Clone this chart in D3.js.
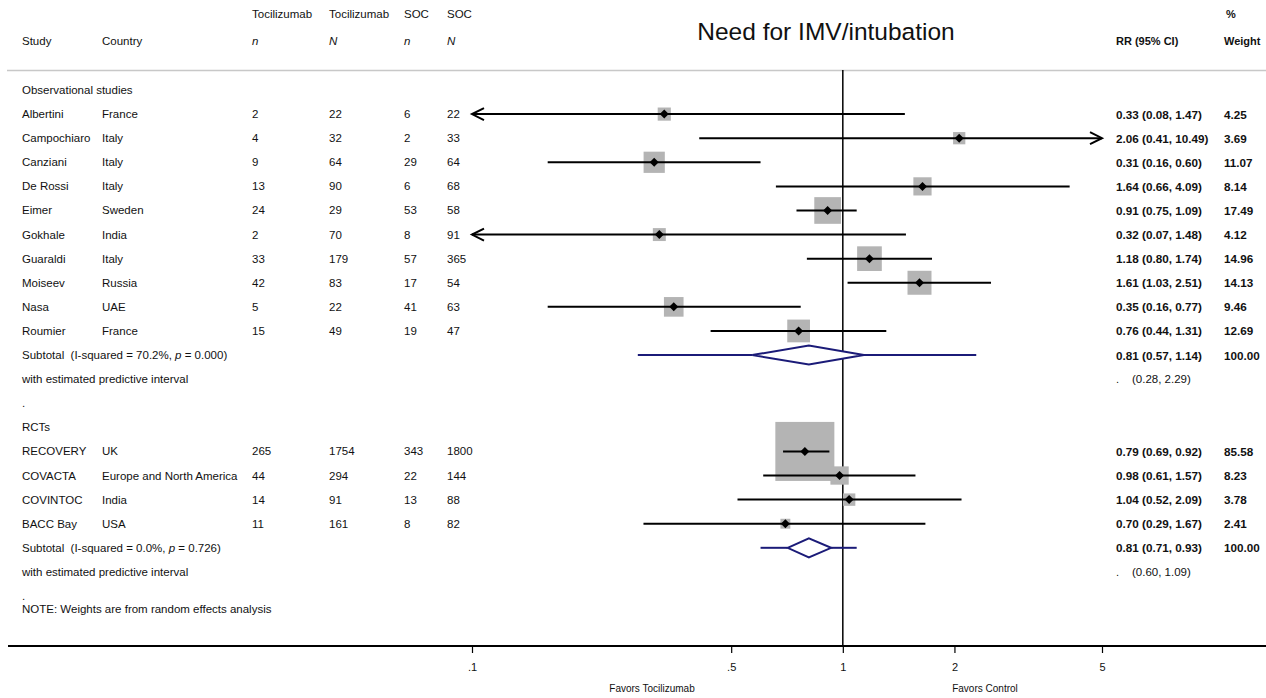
<!DOCTYPE html>
<html>
<head>
<meta charset="utf-8">
<script src="https://cdnjs.cloudflare.com/ajax/libs/d3/7.8.5/d3.min.js"></script>
<style>
  body { margin: 0; background: #fff; }
  svg text { font-family: "Liberation Sans", Arial, Helvetica, sans-serif; fill: #111; white-space: pre; }
</style>
</head>
<body>
<div id="chart"></div>
<script>
// study level data
var studies   = ['Albertini','Campochiaro','Canziani','De Rossi','Eimer','Gokhale','Guaraldi','Moiseev','Nasa','Roumier',
                 'RECOVERY','COVACTA','COVINTOC','BACC Bay'];
var countries = ['France','Italy','Italy','Italy','Sweden','India','Italy','Russia','UAE','France',
                 'UK','Europe and North America','India','USA'];
var groups    = ['obs','obs','obs','obs','obs','obs','obs','obs','obs','obs','rct','rct','rct','rct'];
var tocEvents = [2,4,9,13,24,2,33,42,5,15, 265,44,14,11];
var tocTotal  = [22,32,64,90,29,70,179,83,22,49, 1754,294,91,161];
var socEvents = [6,2,29,6,53,8,57,17,41,19, 343,22,13,8];
var socTotal  = [22,33,64,68,58,91,365,54,63,47, 1800,144,88,82];
var rr        = [0.33,2.06,0.31,1.64,0.91,0.32,1.18,1.61,0.35,0.76, 0.79,0.98,1.04,0.70];
var rrLo      = [0.08,0.41,0.16,0.66,0.75,0.07,0.80,1.03,0.16,0.44, 0.69,0.61,0.52,0.29];
var rrHi      = [1.47,10.49,0.60,4.09,1.09,1.48,1.74,2.51,0.77,1.31, 0.92,1.57,2.09,1.67];
var weights   = [4.25,3.69,11.07,8.14,17.49,4.12,14.96,14.13,9.46,12.69, 85.58,8.23,3.78,2.41];

// subgroups
var groupKeys   = ['obs','rct'];
var groupTitles = ['Observational studies','RCTs'];
var subRR       = [0.81,0.81];
var subLo       = [0.57,0.71];
var subHi       = [1.14,0.93];
var piLo        = [0.28,0.60];
var piHi        = [2.29,1.09];
var i2          = ['70.2%','0.0%'];
var pHet        = ['0.000','0.726'];

var tickVals   = [0.1,0.5,1,2,5];
var tickLabels = ['.1','.5','1','2','5'];

var W = 1266, H = 698;
var svg = d3.select('#chart').append('svg').attr('width', W).attr('height', H);

var x = d3.scaleLog().domain([0.1, 5]).range([472, 1102]);
var y = d3.scaleLinear().domain([0, 21]).range([90, 596]);

var col = {study: 22, country: 102, tn: 252, tN: 329, sn: 404, sN: 447, rr: 1116, w: 1224};
var fs = 11.5;
var rfs = 11.7;

// build row list
var rows = [];
groupKeys.forEach(function(g, gi) {
  rows.push({type: 'title', text: groupTitles[gi]});
  studies.forEach(function(s, i) {
    if (groups[i] != g) return;
    rows.push({type: 'study', i: i});
  });
  rows.push({type: 'sub', g: gi});
  rows.push({type: 'pi', g: gi});
  rows.push({type: 'dot'});
});
rows.forEach(function(r, k) { r.y = y(k); });

// headers
var head = svg.append('g');
function txt(g, xx, yy, s, opts) {
  opts = opts || {};
  return g.append('text').attr('x', xx).attr('y', yy)
    .attr('dominant-baseline', 'central')
    .style('font-size', (opts.size || fs) + 'px')
    .style('font-weight', opts.bold ? 'bold' : null)
    .style('font-style', opts.italic ? 'italic' : null)
    .attr('text-anchor', opts.anchor || 'start')
    .text(s);
}
txt(head, col.tn, 14, 'Tocilizumab');
txt(head, col.tN, 14, 'Tocilizumab');
txt(head, col.sn, 14, 'SOC');
txt(head, col.sN, 14, 'SOC');
txt(head, col.study, 41, 'Study');
txt(head, col.country, 41, 'Country');
txt(head, col.tn, 41, 'n', {italic: true});
txt(head, col.tN, 41, 'N', {italic: true});
txt(head, col.sn, 41, 'n', {italic: true});
txt(head, col.sN, 41, 'N', {italic: true});
txt(head, col.rr, 41, 'RR (95% CI)', {bold: true, size: 11});
txt(head, col.w + 2, 14, '%', {bold: true, size: 11});
txt(head, col.w, 41, 'Weight', {bold: true, size: 11});
head.append('text').attr('x', 826).attr('y', 40).attr('text-anchor', 'middle')
  .style('font-size', '24.5px').text('Need for IMV/intubation');

// top rule
svg.append('line').attr('x1', 7).attr('x2', W).attr('y1', 70.5).attr('y2', 70.5)
  .attr('stroke', '#c8c8c8').attr('stroke-width', 1.5);

// null line
svg.append('line').attr('x1', x(1)).attr('x2', x(1)).attr('y1', 70).attr('y2', 646)
  .attr('stroke', '#000').attr('stroke-width', 1.5);

var rowG = svg.append('g');
var marks = svg.append('g');
var navy = '#1b1b78';

rows.forEach(function(r) {
  if (r.type == 'title') {
    txt(rowG, col.study, r.y, r.text);
  } else if (r.type == 'dot') {
    txt(rowG, col.study, r.y, '.');
  } else if (r.type == 'study') {
    var i = r.i;
    txt(rowG, col.study, r.y, studies[i]);
    txt(rowG, col.country, r.y, countries[i]);
    txt(rowG, col.tn, r.y, tocEvents[i]);
    txt(rowG, col.tN, r.y, tocTotal[i]);
    txt(rowG, col.sn, r.y, socEvents[i]);
    txt(rowG, col.sN, r.y, socTotal[i]);
    txt(rowG, col.rr, r.y, rr[i].toFixed(2) + ' (' + rrLo[i].toFixed(2) + ', ' + rrHi[i].toFixed(2) + ')', {bold: true, size: rfs});
    txt(rowG, col.w, r.y, weights[i].toFixed(2), {bold: true, size: rfs});

    // weight box
    var side = 6.38 * Math.sqrt(weights[i]);
    marks.append('rect')
      .attr('x', x(rr[i]) - side / 2).attr('y', r.y - side / 2)
      .attr('width', side).attr('height', side)
      .attr('fill', '#b4b4b4');
  } else if (r.type == 'sub') {
    var g = r.g;
    var t = txt(rowG, col.study, r.y, 'Subtotal  (I-squared = ' + i2[g] + ', ');
    t.append('tspan').style('font-style', 'italic').text('p');
    t.append('tspan').text(' = ' + pHet[g] + ')');
    txt(rowG, col.rr, r.y, subRR[g].toFixed(2) + ' (' + subLo[g].toFixed(2) + ', ' + subHi[g].toFixed(2) + ')', {bold: true, size: rfs});
    txt(rowG, col.w, r.y, '100.00', {bold: true, size: rfs});
  } else if (r.type == 'pi') {
    var g2 = r.g;
    txt(rowG, col.study, r.y, 'with estimated predictive interval');
    txt(rowG, col.rr, r.y, '.', {size: 11});
    txt(rowG, col.rr + 16, r.y, '(' + piLo[g2].toFixed(2) + ', ' + piHi[g2].toFixed(2) + ')', {size: 11.5});
  }
});

// note
txt(rowG, col.study, 609, 'NOTE: Weights are from random effects analysis');

// CI lines with arrows where clipped
var lo = x.domain()[0], hi = x.domain()[1];
rows.filter(function(r) { return r.type == 'study'; }).forEach(function(r) {
  var i = r.i;
  var a = Math.max(rrLo[i], lo), b = Math.min(rrHi[i], hi);
  marks.append('line').attr('x1', x(a)).attr('x2', x(b)).attr('y1', r.y).attr('y2', r.y)
    .attr('stroke', '#000').attr('stroke-width', 2);
  if (rrLo[i] < lo) {
    marks.append('path')
      .attr('d', 'M' + (x(lo) + 12) + ',' + (r.y - 6) + 'L' + x(lo) + ',' + r.y + 'L' + (x(lo) + 12) + ',' + (r.y + 6))
      .attr('fill', 'none').attr('stroke', '#000').attr('stroke-width', 2);
  }
  if (rrHi[i] > hi) {
    marks.append('path')
      .attr('d', 'M' + (x(hi) - 12) + ',' + (r.y - 6) + 'L' + x(hi) + ',' + r.y + 'L' + (x(hi) - 12) + ',' + (r.y + 6))
      .attr('fill', 'none').attr('stroke', '#000').attr('stroke-width', 2);
  }
  var cx = x(rr[i]), d = 4.5;
  marks.append('path')
    .attr('d', 'M' + cx + ',' + (r.y - d) + 'L' + (cx + d) + ',' + r.y + 'L' + cx + ',' + (r.y + d) + 'L' + (cx - d) + ',' + r.y + 'Z')
    .attr('fill', '#000');
});

// subtotal diamonds and predictive intervals
rows.filter(function(r) { return r.type == 'sub'; }).forEach(function(r) {
  var g = r.g, h = 9.5;
  marks.append('line').attr('x1', x(piLo[g])).attr('x2', x(subLo[g])).attr('y1', r.y).attr('y2', r.y)
    .attr('stroke', navy).attr('stroke-width', 2);
  marks.append('line').attr('x1', x(subHi[g])).attr('x2', x(piHi[g])).attr('y1', r.y).attr('y2', r.y)
    .attr('stroke', navy).attr('stroke-width', 2);
  marks.append('path')
    .attr('d', 'M' + x(subLo[g]) + ',' + r.y + 'L' + x(subRR[g]) + ',' + (r.y - h) + 'L' + x(subHi[g]) + ',' + r.y +
               'L' + x(subRR[g]) + ',' + (r.y + h) + 'Z')
    .attr('fill', '#fff').attr('stroke', navy).attr('stroke-width', 2);
});

// x axis
var axisY = 646;
svg.append('line').attr('x1', 8).attr('x2', W).attr('y1', axisY).attr('y2', axisY)
  .attr('stroke', '#000').attr('stroke-width', 2);
var ax = svg.append('g').attr('transform', 'translate(0,' + axisY + ')')
  .call(d3.axisBottom(x).tickValues(tickVals)
    .tickFormat(function(d, k) { return tickLabels[k]; })
    .tickSize(7).tickPadding(10));
ax.select('.domain').remove();
ax.selectAll('.tick line').attr('stroke', '#000').attr('stroke-width', 1.2);
ax.selectAll('.tick text').style('font-size', '11px')
  .style('font-family', '"Liberation Sans", Arial, sans-serif').attr('fill', '#111');

svg.append('text').attr('x', 652).attr('y', 688).attr('text-anchor', 'middle')
  .attr('dominant-baseline', 'central').style('font-size', '10px').text('Favors Tocilizumab');
svg.append('text').attr('x', 985).attr('y', 688).attr('text-anchor', 'middle')
  .attr('dominant-baseline', 'central').style('font-size', '10px').text('Favors Control');
</script>
</body>
</html>
